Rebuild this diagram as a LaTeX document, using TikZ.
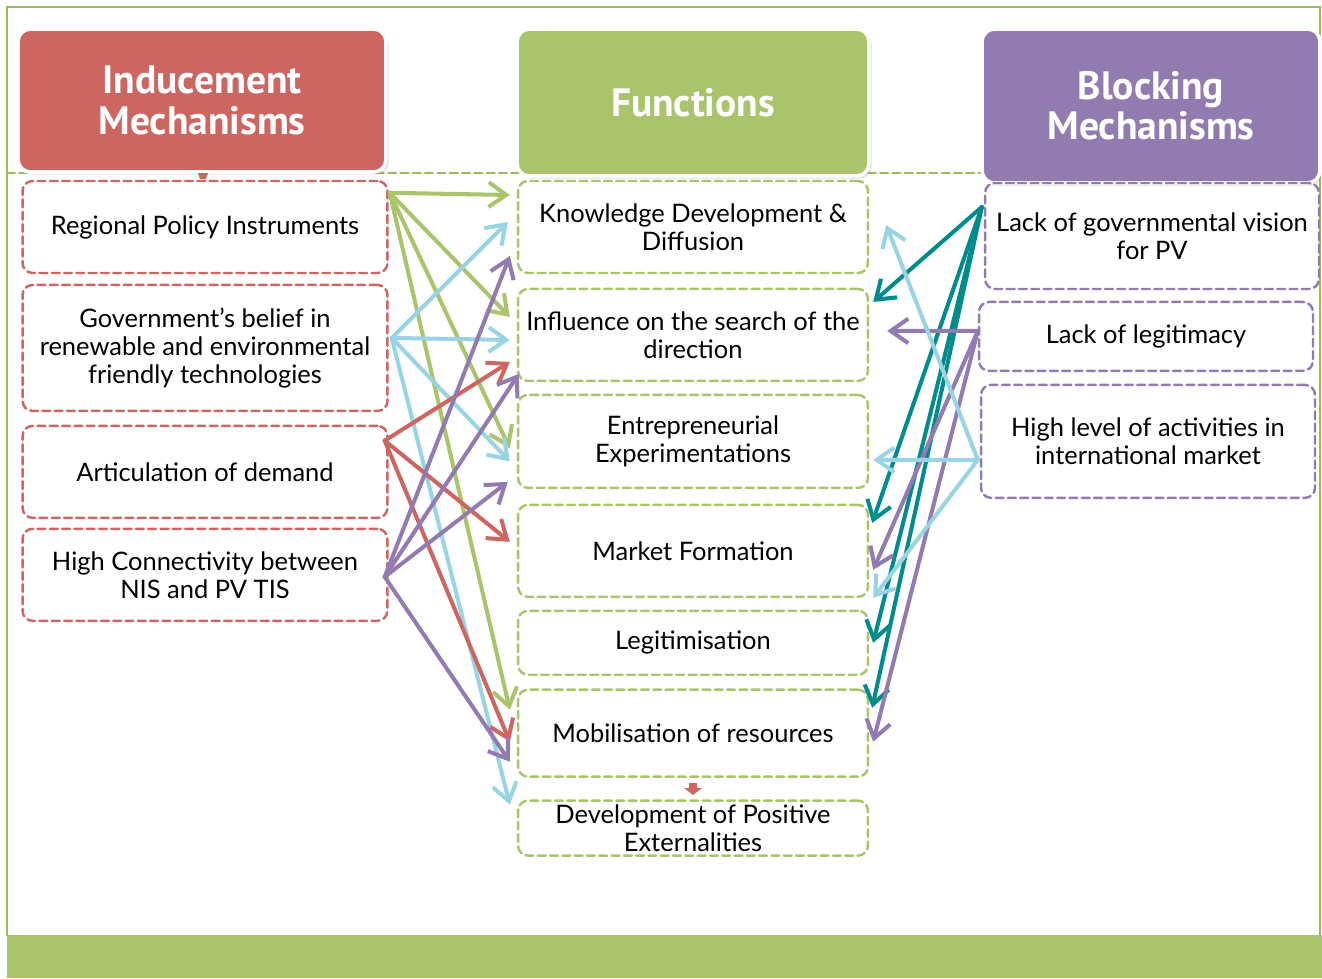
\documentclass[tikz,border=0pt]{standalone}
\usepackage{fontspec}
\setmainfont{Lato}
\newfontfamily\headfont{PT Sans}
\usepackage{tikz}
\usetikzlibrary{positioning, calc, arrows.meta, shadows}

\definecolor{imred}{RGB}{205,102,96}
\definecolor{fngreen}{RGB}{170,196,108}
\definecolor{framegreen}{RGB}{155,187,89}
\definecolor{bmpurple}{RGB}{146,123,177}
\definecolor{skyblue}{RGB}{152,212,228}
\definecolor{tealarrow}{RGB}{0,140,140}

\begin{document}
\begin{tikzpicture}[x=0.02cm, y=-0.02cm, >={Straight Barb[length=10pt,width=14pt]}, line cap=round,
  head/.style={draw=white, line width=2pt, rounded corners=0.25cm, text=white, align=center,
    font=\headfont\bfseries\fontsize{22.5}{23}\selectfont,
    drop shadow={shadow xshift=1.5pt, shadow yshift=-1.5pt, opacity=0.25}},
  dbox/.style={rounded corners=0.2cm, line width=1.4pt, dash pattern=on 4.5pt off 2.5pt,
    align=center, font=\fontsize{14.5}{16}\selectfont, inner xsep=1pt, inner ysep=2pt},
  ibox/.style={dbox, draw=imred, minimum width=7.3cm},
  fbox/.style={dbox, draw=fngreen, minimum width=7.0cm},
  bbox/.style={dbox, draw=bmpurple, minimum width=6.68cm},
  link/.style={->, line width=2.3pt}]
\tikzstyle{every edge}=[draw, link]

% frame and bottom bar
\fill[fngreen] (7,935) rectangle (1322,978);
\draw[framegreen, line width=1.5pt] (7,935) -- (7,7) -- (1320,7) -- (1320,935);
\draw[framegreen, line width=1.4pt, dash pattern=on 4.5pt off 2.5pt] (7,173) -- (1320,173);

% headers
\node[head, fill=imred, minimum width=7.36cm, minimum height=2.86cm]    (IM) at (202,100.5) {Inducement\\Mechanisms};
\node[head, fill=fngreen, minimum width=7.04cm, minimum height=2.94cm]  (FN) at (693,102.5) {Functions};
\node[head, fill=bmpurple, minimum width=6.76cm, minimum height=3.08cm] (BM) at (1151,106)  {Blocking\\Mechanisms};

% inducement mechanisms
\node[ibox, minimum height=1.84cm] (L1) at (205,227)    {Regional Policy Instruments};
\node[ibox, minimum height=2.52cm] (L2)[below=0.19cm of L1] {Government’s belief in\\renewable and environmental\\friendly technologies};
\node[ibox, minimum height=1.84cm] (L3)[below=0.25cm of L2] {Articulation of demand};
\node[ibox, minimum height=1.84cm] (L4)[below=0.17cm of L3] {High Connectivity between\\NIS and PV TIS};

% functions
\node[fbox, minimum height=1.84cm] (F1) at (693,227)    {Knowledge Development \&\\Diffusion};
\node[fbox, minimum height=1.84cm] (F2)[below=0.27cm of F1] {Influence on the search of the\\direction};
\node[fbox, minimum height=1.86cm] (F3)[below=0.23cm of F2] {Entrepreneurial\\Experimentations};
\node[fbox, minimum height=1.84cm] (F4)[below=0.29cm of F3] {Market Formation};
\node[fbox, minimum height=1.28cm] (F5)[below=0.23cm of F4] {Legitimisation};
\node[fbox, minimum height=1.74cm] (F6)[below=0.25cm of F5] {Mobilisation of resources};
\node[fbox, minimum height=1.10cm, inner ysep=0pt] (F7)[below=0.43cm of F6] {Development of Positive\\Externalities};

% blocking mechanisms
\node[bbox, minimum height=2.12cm] (R1) at (1152,236)   {Lack of governmental vision\\for PV};
\node[bbox, minimum height=1.38cm] (R2)[below=0.21cm of R1, xshift=-0.12cm] {Lack of legitimacy};
\node[bbox, minimum height=2.26cm] (R3)[below=0.23cm of R2, xshift=0.04cm] {High level of activities in\\international market};

% small markers
\fill[imred] (198,173) -- (208,173) -- (206,179) -- (200,179) -- cycle;
\fill[imred] (689,783) rectangle (697,788);
\fill[imred] (684,788) -- (702,788) -- (693,795) -- cycle;

% start points
\coordinate (g0) at ($(L1.north east)+(1,13)$);
\coordinate (b0) at ($(L2.east)+(3,-10)$);
\coordinate (r0) at ($(L3.north east)+(-4,16)$);
\coordinate (p0) at ($(L4.east)+(-4,2)$);
\coordinate (t0) at ($(R1.west)+(-2,-29)$);
\coordinate (q0) at ($(R2.west)+(0,-5.5)$);
\coordinate (c0) at ($(R3.west)+(-2,18.5)$);

% inducement links
\path[fngreen]
(g0) edge ($(F1.west)+(-7,-32)$)
(g0) edge ($(F2.west)+(-7,-18)$)
(g0) edge ($(F3.west)+(-7,7)$)
(g0) edge ($(F6.west)+(-7,-23.5)$);

\path[skyblue]
(b0) edge ($(F1.west)+(-9,-5)$)
(b0) edge ($(F2.west)+(-7,5)$)
(b0) edge ($(F3.west)+(-7,20)$)
(b0) edge ($(F7.west)+(-7,-23.5)$);

\path[imred]
(r0) edge ($(F2.west)+(-7,27)$)
(r0) edge ($(F4.west)+(-7,-9)$)
(r0) edge ($(F6.west)+(-7,8.5)$);

\path[bmpurple]
(p0) edge ($(F1.west)+(-7,29)$)
(p0) edge ($(F2.west)+(2,39)$)
(p0) edge ($(F3.west)+(-9,40.5)$)
(p0) edge ($(F6.west)+(-7,28.5)$);

% blocking links
\path[tealarrow]
(t0) edge ($(F2.east)+(4,-33)$)
(t0) edge ($(F4.east)+(3,-28)$)
(t0) edge ($(F5.east)+(4,0)$)
(t0) edge ($(F6.east)+(3,-25.5)$);

\path[bmpurple]
(q0) edge ($(F2.east)+(18,-4)$)
(q0) edge ($(F4.east)+(4,19)$)
(q0) edge ($(F6.east)+(4,8.5)$);

\path[skyblue]
(c0) edge ($(F3.east)+(4,18.5)$)
(c0) edge ($(F1.east)+(17,-2)$)
(c0) edge ($(F4.east)+(4,47)$);

\useasboundingbox (0,0) rectangle (1322,978);
\end{tikzpicture}
\end{document}
